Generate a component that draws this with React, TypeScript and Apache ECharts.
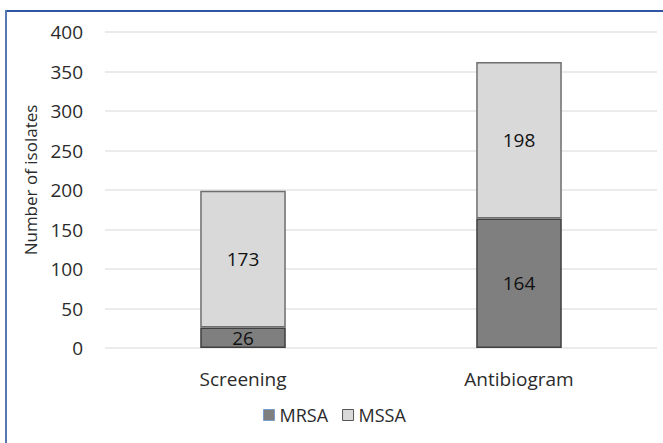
import React, { useEffect, useRef } from "react";
import * as echarts from "echarts";

const categories = ["Screening", "Antibiogram"];
const mrsa = [26, 164];
const mssa = [173, 198];
const yTicks = { min: 0, max: 400, interval: 50 };

export default function App() {
  const ref = useRef<HTMLDivElement>(null);
  useEffect(() => {
    if (!ref.current) return;
    const chart = echarts.init(ref.current, null, { renderer: "svg" });
    const font = "Open Sans";
    const txt = "#2b2b2b";
    chart.setOption({
      animation: false,
      backgroundColor: "#ffffff",
      textStyle: { fontFamily: font },
      graphic: [
        { type: "line", shape: { x1: 6, y1: 11, x2: 663, y2: 11 }, style: { stroke: "#2f55a4", lineWidth: 2 } },
        { type: "line", shape: { x1: 6, y1: 10, x2: 6, y2: 443 }, style: { stroke: "#5677b0", lineWidth: 2 } },
      ],
      grid: { left: 105, right: 6, top: 32, bottom: 95 },
      legend: {
        left: 258,
        top: 401,
        itemWidth: 11,
        itemHeight: 11,
        itemGap: 14,
        icon: "rect",
        textStyle: { fontFamily: font, fontSize: 18, color: txt },
        data: [
          { name: "MRSA", itemStyle: { color: "#7f7f7f", borderColor: "#7a9ccc", borderWidth: 1 } },
          { name: "MSSA", itemStyle: { color: "#d9d9d9", borderColor: "#555", borderWidth: 1 } },
        ],
      },
      xAxis: {
        type: "category",
        data: categories,
        axisLine: { show: false },
        axisTick: { show: false },
        axisLabel: { color: txt, fontSize: 19, fontFamily: font, margin: 21 },
      },
      yAxis: {
        type: "value",
        min: yTicks.min,
        max: yTicks.max,
        interval: yTicks.interval,
        name: "Number of isolates",
        nameLocation: "middle",
        nameRotate: 90,
        nameGap: 66,
        nameTextStyle: { color: txt, fontSize: 17, fontFamily: font, padding: [0, 0, 0, 20] },
        axisLine: { show: false },
        axisTick: { show: false },
        axisLabel: { color: txt, fontSize: 19, fontFamily: font, margin: 22 },
        splitLine: { lineStyle: { color: "#e4e4e4", width: 1.5 } },
      },
      series: [
        {
          name: "MRSA",
          type: "bar",
          stack: "t",
          barWidth: "31%",
          data: mrsa,
          itemStyle: { color: "#7f7f7f", borderColor: "#404040", borderWidth: 1.5 },
          label: { show: true, position: "inside", color: "#111", fontSize: 19, fontFamily: font },
        },
        {
          name: "MSSA",
          type: "bar",
          stack: "t",
          barWidth: "31%",
          data: mssa,
          itemStyle: { color: "#d9d9d9", borderColor: "#6e6e6e", borderWidth: 1.5 },
          label: { show: true, position: "inside", color: "#111", fontSize: 19, fontFamily: font },
        },
      ],
    });
    return () => chart.dispose();
  }, []);
  return (
    <div
      ref={ref}
      style={{ position: "absolute", left: 0, top: 0, width: 663, height: 443 }}
    />
  );
}
